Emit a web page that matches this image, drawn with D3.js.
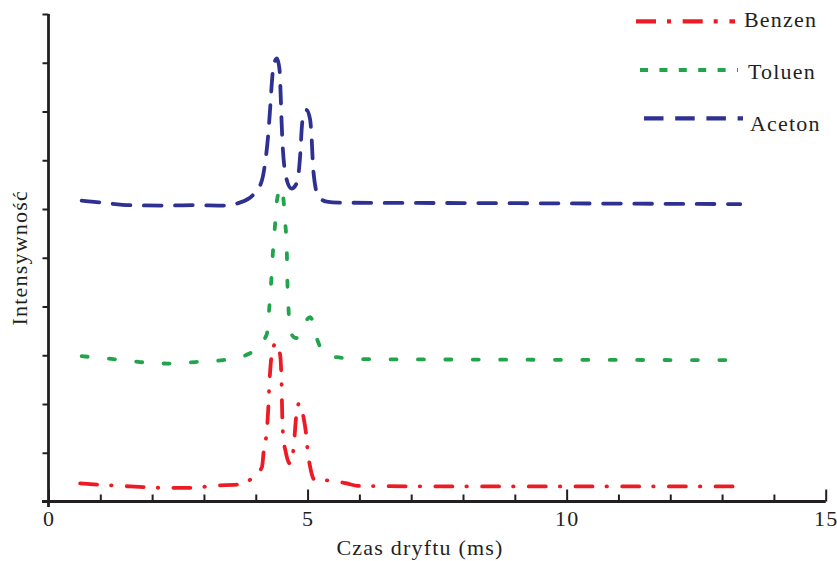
<!DOCTYPE html>
<html>
<head>
<meta charset="utf-8">
<script src="https://cdn.jsdelivr.net/npm/d3@7"></script>
<style>
  body { margin: 0; background: #fff; }
  text { font-family: "Liberation Serif", "Times New Roman", serif; fill: #231f20; letter-spacing: 1.2px; }
</style>
</head>
<body>
<svg id="chart" width="837" height="561"></svg>
<script>
// Drift-time spectra (ms vs. relative intensity, stacked traces)
const benzenTime = [0.61, 1.38, 2.27, 2.83, 3.12, 3.70, 3.95, 4.12, 4.16, 4.21, 4.24, 4.26, 4.29, 4.31, 4.39, 4.47, 4.50, 4.51, 4.53, 4.57, 4.66, 4.73, 4.78, 4.84, 4.92, 4.97, 5.00, 5.05, 5.14, 5.43, 5.76, 5.97, 7.75, 10.65, 13.31];
const benzenIntensity = [0.37, 0.32, 0.28, 0.28, 0.32, 0.35, 0.50, 0.71, 1.10, 1.41, 1.88, 2.35, 2.84, 3.01, 3.26, 3.01, 2.35, 1.82, 1.32, 1.06, 0.78, 1.09, 1.74, 2.02, 1.74, 1.40, 1.06, 0.71, 0.44, 0.43, 0.37, 0.32, 0.31, 0.31, 0.31];

const toluenTime = [0.64, 1.25, 1.77, 2.31, 2.83, 3.37, 3.89, 4.21, 4.26, 4.30, 4.33, 4.37, 4.41, 4.49, 4.57, 4.60, 4.61, 4.63, 4.68, 4.78, 4.89, 5.05, 5.11, 5.16, 5.24, 5.40, 5.56, 6.14, 8.72, 13.12];
const toluenIntensity = [2.98, 2.92, 2.86, 2.83, 2.86, 2.90, 3.04, 3.42, 3.96, 4.54, 5.09, 5.64, 6.18, 6.45, 5.71, 5.12, 4.54, 4.00, 3.45, 3.35, 3.56, 3.78, 3.66, 3.42, 3.18, 3.01, 2.96, 2.92, 2.91, 2.90];

const acetonTime = [0.64, 1.03, 1.57, 2.21, 2.79, 3.41, 3.66, 3.95, 4.12, 4.18, 4.24, 4.28, 4.31, 4.34, 4.41, 4.46, 4.48, 4.50, 4.52, 4.60, 4.69, 4.79, 4.86, 4.89, 4.92, 4.98, 5.05, 5.08, 5.11, 5.21, 5.37, 5.59, 8.72, 13.35];
const acetonIntensity = [6.17, 6.13, 6.08, 6.07, 6.08, 6.07, 6.12, 6.29, 6.59, 6.94, 7.52, 8.10, 8.58, 8.92, 9.09, 8.85, 8.37, 7.76, 7.28, 6.59, 6.42, 6.53, 7.14, 7.69, 7.93, 8.03, 7.83, 7.42, 6.80, 6.25, 6.15, 6.13, 6.12, 6.10];

const seriesNames = ["Benzen", "Toluen", "Aceton"];
const xTickValues = d3.range(0, 16);        // minor ticks every 1 ms
const xLabelValues = [0, 5, 10, 15];         // labelled (major) ticks
const yTickValues = d3.range(0, 11);         // unlabelled intensity ticks

const ink = "#231f20";
const series = [
  { name: seriesNames[0], t: benzenTime, v: benzenIntensity, color: "#ed1c24", dash: "17,14,0.5,15.2", legendDash: "20,11,4,11.7" },
  { name: seriesNames[1], t: toluenTime, v: toluenIntensity, color: "#22a44c", dash: "6,21.4", legendDash: "8,11.4" },
  { name: seriesNames[2], t: acetonTime, v: acetonIntensity, color: "#2e3192", dash: "17.7,13.5", legendDash: "19.5,11.7" }
];

const svg = d3.select("#chart");
const x = d3.scaleLinear().domain([0, 15]).range([48.5, 825.7]);
const y = d3.scaleLinear().domain([0, 10]).range([501.5, 14]);

// x axis: inward ticks, longer at labelled values
const gx = svg.append("g")
  .attr("transform", `translate(0,${y(0)})`)
  .call(d3.axisBottom(x)
    .tickValues(xTickValues)
    .tickSize(-7)
    .tickPadding(9)
    .tickFormat(d => xLabelValues.includes(d) ? d : ""));
gx.select(".domain").remove();
gx.selectAll(".tick line")
  .attr("y2", d => xLabelValues.includes(d) ? -12 : -7)
  .attr("stroke", ink)
  .attr("stroke-width", 2);
gx.selectAll(".tick text").style("font-size", "22px").attr("dy", "0.71em");

// y axis: outward ticks, no labels
const gy = svg.append("g")
  .attr("transform", `translate(${x(0)},0)`)
  .call(d3.axisLeft(y).tickValues(yTickValues).tickSize(6).tickFormat(""));
gy.select(".domain").remove();
gy.selectAll(".tick line").attr("stroke", ink).attr("stroke-width", 2);

// axis lines, crossing slightly at the origin
svg.append("line")
  .attr("x1", x(0) - 6.5).attr("x2", x(15))
  .attr("y1", y(0)).attr("y2", y(0))
  .attr("stroke", ink).attr("stroke-width", 2.8);
svg.append("line")
  .attr("x1", x(0)).attr("x2", x(0))
  .attr("y1", y(10)).attr("y2", y(0) + 5.5)
  .attr("stroke", ink).attr("stroke-width", 2.8);

// traces
const line = d3.line()
  .x(d => x(d[0]))
  .y(d => y(d[1]))
  .curve(d3.curveMonotoneX);

svg.append("g").selectAll("path")
  .data(series)
  .join("path")
  .attr("d", s => line(s.t.map((t, i) => [t, s.v[i]])))
  .attr("fill", "none")
  .attr("stroke", d => d.color)
  .attr("stroke-width", 3.8)
  .attr("stroke-linecap", "round")
  .attr("stroke-linejoin", "round")
  .attr("stroke-dasharray", d => d.dash);

// axis titles
svg.append("text")
  .attr("x", 420).attr("y", 555)
  .attr("text-anchor", "middle")
  .style("font-size", "22px")
  .text("Czas dryftu (ms)");

svg.append("text")
  .attr("transform", `translate(27,${(y(0) + y(10)) / 2}) rotate(-90)`)
  .attr("text-anchor", "middle")
  .style("font-size", "22px")
  .text("Intensywność");

// legend
const legendRows = [
  { x1: 636, x2: 735, ly: 21.3, tx: 744, ty: 27.3 },
  { x1: 640, x2: 738, ly: 70, tx: 748, ty: 79 },
  { x1: 644, x2: 743, ly: 118.3, tx: 750, ty: 131 }
];
const legend = svg.append("g").selectAll("g")
  .data(series)
  .join("g");
legend.append("line")
  .attr("x1", (d, i) => legendRows[i].x1)
  .attr("x2", (d, i) => legendRows[i].x2)
  .attr("y1", (d, i) => legendRows[i].ly)
  .attr("y2", (d, i) => legendRows[i].ly)
  .attr("stroke", d => d.color)
  .attr("stroke-width", 4.2)
  .attr("stroke-dasharray", d => d.legendDash);
legend.append("text")
  .attr("x", (d, i) => legendRows[i].tx)
  .attr("y", (d, i) => legendRows[i].ty)
  .style("font-size", "22px")
  .text(d => d.name);
</script>
</body>
</html>
